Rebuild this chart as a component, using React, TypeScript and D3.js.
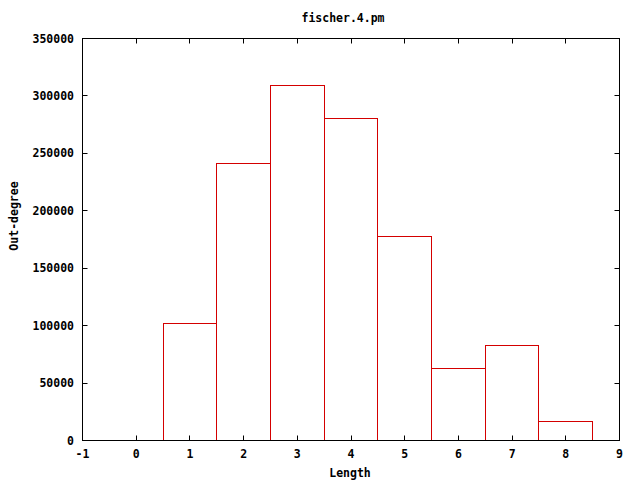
import React from "react";
import * as d3 from "d3";

const lengths = [1, 2, 3, 4, 5, 6, 7, 8];
const outDegree = [101600, 240900, 308800, 280100, 177600, 62400, 82400, 16300];
const xTicks = [-1, 0, 1, 2, 3, 4, 5, 6, 7, 8, 9];
const yTicks = [0, 50000, 100000, 150000, 200000, 250000, 300000, 350000];
const title = "fischer.4.pm";
const xLabel = "Length";
const yLabel = "Out-degree";

const W = 640, H = 480;
const L = 82.5, R = 619.5, T = 38.5, B = 440.5;
const FONT = "'DejaVu Sans Mono', monospace";

export default function App() {
  const x = d3.scaleLinear().domain([-1, 9]).range([L, R]);
  const y = d3.scaleLinear().domain([0, 350000]).range([B, T]);
  const px = (v: number) => Math.round(v - 0.5) + 0.5;
  const tk = 5;
  return (
    <svg width={W} height={H} style={{ position: "absolute", left: 0, top: 0, background: "#fff" }}
      fontFamily={FONT} fontWeight="bold" fontSize={11.5}>
      <rect x={0} y={0} width={W} height={H} fill="#fff" />
      {lengths.map((l, i) => {
        const x0 = px(x(l - 0.5)), x1 = px(x(l + 0.5)), y0 = px(y(outDegree[i]));
        return (
          <rect key={l} x={x0} y={y0} width={x1 - x0} height={B - y0}
            fill="none" stroke="#d40000" strokeWidth={1} />
        );
      })}
      {xTicks.map((t) => (
        <g key={"x" + t}>
          <line x1={px(x(t))} x2={px(x(t))} y1={B} y2={B - tk} stroke="#000" />
          <line x1={px(x(t))} x2={px(x(t))} y1={T} y2={T + tk} stroke="#000" />
          <text x={x(t)} y={458} textAnchor="middle">{t}</text>
        </g>
      ))}
      {yTicks.map((t) => (
        <g key={"y" + t}>
          <line x1={L} x2={L + tk} y1={px(y(t))} y2={px(y(t))} stroke="#000" />
          <line x1={R} x2={R - tk} y1={px(y(t))} y2={px(y(t))} stroke="#000" />
          <text x={74} y={y(t) + 4} textAnchor="end">{t}</text>
        </g>
      ))}
      <rect x={L} y={T} width={R - L} height={B - T} fill="none" stroke="#000" strokeWidth={1} />
      <text x={343} y={22} textAnchor="middle">{title}</text>
      <text x={350} y={477} textAnchor="middle">{xLabel}</text>
      <text transform={`translate(18,216) rotate(-90)`} textAnchor="middle">{yLabel}</text>
    </svg>
  );
}
